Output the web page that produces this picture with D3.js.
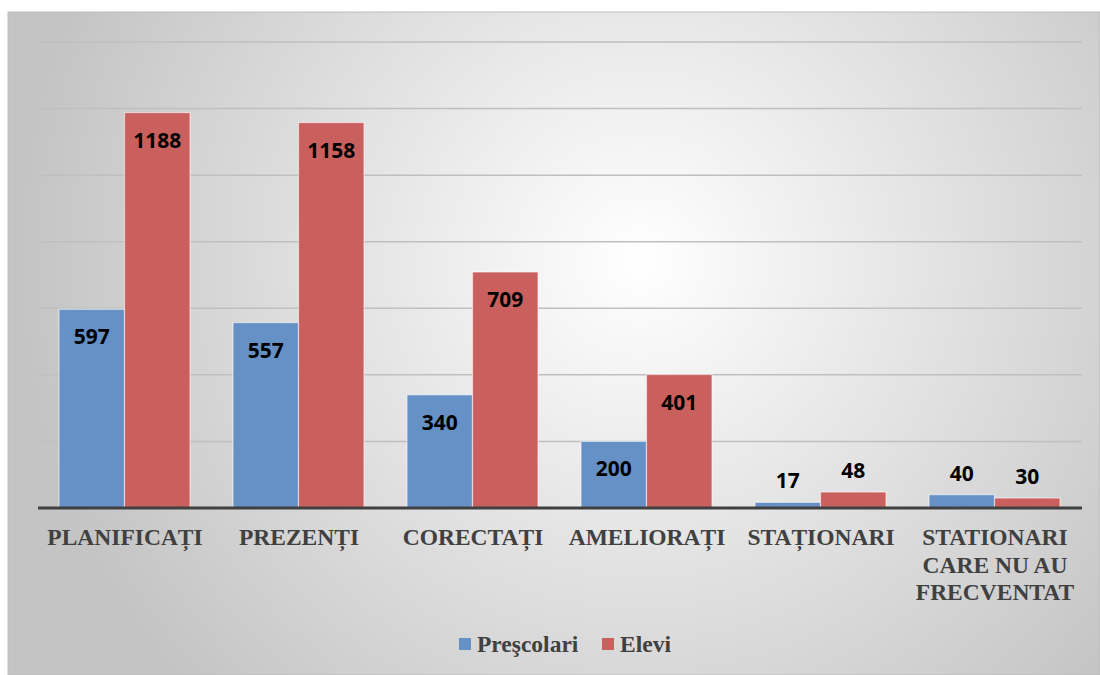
<!DOCTYPE html>
<html>
<head>
  <meta charset="utf-8">
  <script src="https://d3js.org/d3.v7.min.js"></script>
  <style>
    body { margin: 0; background: #fff; }
  </style>
</head>
<body>
  <div id="chart"></div>
  <script>
    // categories and series values
    const categories = ["PLANIFICAȚI", "PREZENȚI", "CORECTAȚI", "AMELIORAȚI", "STAȚIONARI", "STATIONARI CARE NU AU FRECVENTAT"];
    const categoryLines = [["PLANIFICAȚI"], ["PREZENȚI"], ["CORECTAȚI"], ["AMELIORAȚI"], ["STAȚIONARI"], ["STATIONARI", "CARE NU AU", "FRECVENTAT"]];
    const seriesNames = ["Preşcolari", "Elevi"];
    const prescolari = [597, 557, 340, 200, 17, 40];
    const elevi = [1188, 1158, 709, 401, 48, 30];
    const yTicks = [0, 200, 400, 600, 800, 1000, 1200, 1400];

    const colors = ["#6591c7", "#c9605e"];
    const W = 1100, H = 675;
    const plot = { left: 38, right: 1082, top: 42, bottom: 508 };

    const svg = d3.select("#chart").append("svg")
      .attr("width", W).attr("height", H);

    // background gradient
    const defs = svg.append("defs");
    const grad = defs.append("radialGradient")
      .attr("id", "bg")
      .attr("gradientUnits", "userSpaceOnUse")
      .attr("cx", 640).attr("cy", 260).attr("r", 620);
    grad.append("stop").attr("offset", "0%").attr("stop-color", "#ffffff");
    grad.append("stop").attr("offset", "100%").attr("stop-color", "#c4c4c4");

    svg.append("rect")
      .attr("x", 8).attr("y", 12)
      .attr("width", W - 8).attr("height", H - 12)
      .attr("fill", "url(#bg)")
      .attr("stroke", "#bdbdbd").attr("stroke-width", 1);

    const y = d3.scaleLinear().domain([0, 1400]).range([plot.bottom, plot.top]);

    const x0 = d3.scaleBand()
      .domain(categories)
      .range([plot.left, plot.right])
      .padding(0);

    const x1 = d3.scaleBand()
      .domain(seriesNames)
      .range([21, x0.bandwidth() - 22])
      .padding(0);

    // gridlines
    svg.append("g")
      .selectAll("line")
      .data(yTicks.filter(d => d > 0))
      .join("line")
      .attr("x1", plot.left).attr("x2", plot.right)
      .attr("y1", d => y(d)).attr("y2", d => y(d))
      .attr("stroke", "#bfbfbf").attr("stroke-width", 1.5);

    const rows = categories.map((c, i) => ({ cat: c, vals: [prescolari[i], elevi[i]] }));

    const groups = svg.append("g")
      .selectAll("g")
      .data(rows)
      .join("g")
      .attr("transform", d => `translate(${x0(d.cat)},0)`);

    groups.selectAll("rect")
      .data(d => d.vals.map((v, j) => ({ name: seriesNames[j], v, j })))
      .join("rect")
      .attr("x", d => x1(d.name))
      .attr("y", d => y(d.v))
      .attr("width", x1.bandwidth())
      .attr("height", d => y(0) - y(d.v))
      .attr("fill", d => colors[d.j])
      .attr("stroke", "rgba(255,255,255,0.55)")
      .attr("stroke-width", 1.2);

    // data labels
    groups.selectAll("text")
      .data(d => d.vals.map((v, j) => ({ name: seriesNames[j], v, j })))
      .join("text")
      .attr("x", d => x1(d.name) + x1.bandwidth() / 2)
      .attr("y", d => (y(0) - y(d.v) > 60) ? y(d.v) + 35 : y(d.v) - 14)
      .attr("text-anchor", "middle")
      .attr("font-family", "'Open Sans', sans-serif")
      .attr("font-weight", "bold")
      .attr("font-size", "21px")
      .attr("fill", "#000")
      .text(d => d.v);

    // baseline
    svg.append("line")
      .attr("x1", plot.left).attr("x2", plot.right)
      .attr("y1", y(0)).attr("y2", y(0))
      .attr("stroke", "#404040").attr("stroke-width", 3);

    // category labels
    const catLabels = svg.append("g")
      .selectAll("text")
      .data(categories)
      .join("text")
      .attr("x", d => x0(d) + x0.bandwidth() / 2)
      .attr("y", 545)
      .attr("text-anchor", "middle")
      .attr("font-family", "'Liberation Serif', 'Times New Roman', serif")
      .attr("font-weight", "bold")
      .attr("font-size", "23.5px")
      .attr("fill", "#404040");

    catLabels.selectAll("tspan")
      .data((d, i) => categoryLines[i])
      .join("tspan")
      .attr("x", function () { return d3.select(this.parentNode).attr("x"); })
      .attr("dy", (d, i) => i === 0 ? 0 : 27.5)
      .text(d => d);

    // legend
    const legend = svg.append("g").attr("transform", "translate(459,644)");
    const legendX = [0, 143];
    seriesNames.forEach((n, i) => {
      legend.append("rect")
        .attr("x", legendX[i]).attr("y", -6)
        .attr("width", 12).attr("height", 12)
        .attr("fill", colors[i]);
      legend.append("text")
        .attr("x", legendX[i] + 18).attr("y", 8)
        .attr("font-family", "'Liberation Serif', 'Times New Roman', serif")
        .attr("font-weight", "bold")
        .attr("font-size", "23.5px")
        .attr("fill", "#404040")
        .text(n);
    });
  </script>
</body>
</html>
